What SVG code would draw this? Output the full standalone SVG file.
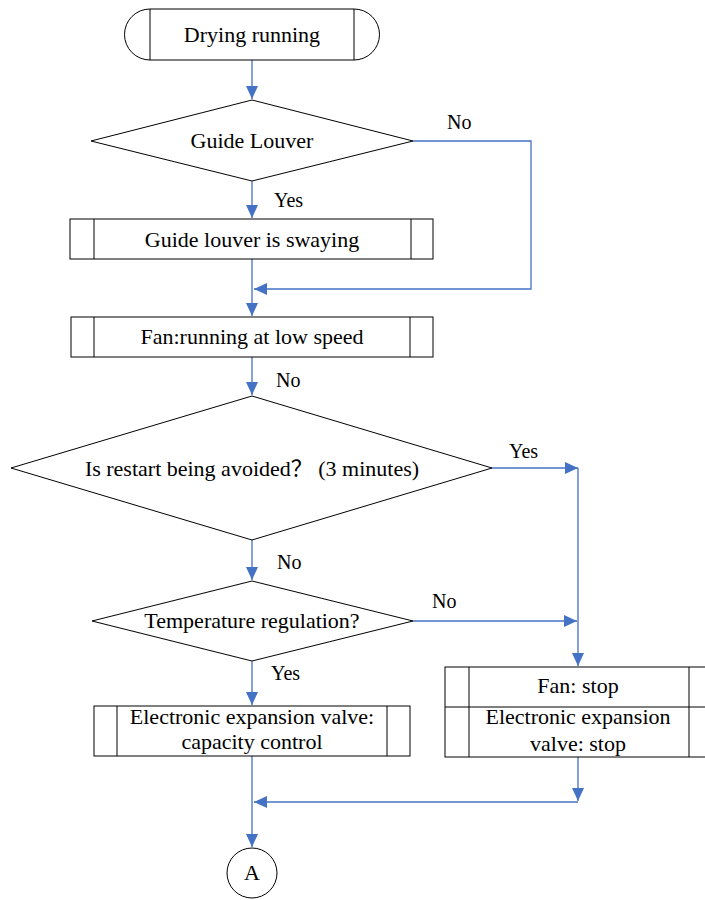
<svg xmlns="http://www.w3.org/2000/svg" width="705" height="900" viewBox="0 0 705 900">
<style>
.n{fill:#fff;stroke:#000;stroke-width:1}
.l{fill:none;stroke:#000;stroke-width:1}
.t{font-size:22px;fill:#000;text-anchor:middle}
.lb{font-size:20px;fill:#000}
.c{fill:none;stroke:#4472C4;stroke-width:1.3}
</style>
<defs>
<marker id="ah" markerUnits="userSpaceOnUse" markerWidth="14" markerHeight="12" refX="13" refY="6" orient="auto">
<path d="M0,0 L13,6 L0,12 Z" fill="#4472C4"/>
</marker>
</defs>
<rect width="705" height="900" fill="#fff"/>
<g id="connectors">
<path class="c" d="M252,60 V99" marker-end="url(#ah)"/>
<path class="c" d="M252,181 V218" marker-end="url(#ah)"/>
<path class="c" d="M413,141 H531 V289 H254" marker-end="url(#ah)"/>
<path class="c" d="M252,259 V316" marker-end="url(#ah)"/>
<path class="c" d="M252,357 V395" marker-end="url(#ah)"/>
<path class="c" d="M492,468 H578" marker-end="url(#ah)"/>
<path class="c" d="M578,468 V666" marker-end="url(#ah)"/>
<path class="c" d="M252,540 V580" marker-end="url(#ah)"/>
<path class="c" d="M413,621 H577" marker-end="url(#ah)"/>
<path class="c" d="M252,661 V705" marker-end="url(#ah)"/>
<path class="c" d="M578,757 V801" marker-end="url(#ah)"/>
<path class="c" d="M578,802 H254" marker-end="url(#ah)"/>
<path class="c" d="M252,756 V847" marker-end="url(#ah)"/>
</g>
<g font-family="Liberation Serif, Noto Sans CJK SC, serif">
<g id="start">
<path class="n" d="M150,9 H354 A25.5,25.5 0 0 1 354,60 H150 A25.5,25.5 0 0 1 150,9 Z"/>
<path class="l" d="M150,9 V60 M354,9 V60"/>
<text class="t" x="252" y="42">Drying running</text>
</g>
<g id="guide-louver">
<polygon class="n" points="252,100 413,141 252,181 91,141"/>
<text class="t" x="252" y="148">Guide Louver</text>
</g>
<g id="swaying">
<rect class="n" x="70" y="219" width="363" height="40"/>
<path class="l" d="M94,219 V259 M411,219 V259"/>
<text class="t" x="252" y="247">Guide louver is swaying</text>
</g>
<g id="fan-low">
<rect class="n" x="71" y="317" width="362" height="40"/>
<path class="l" d="M94,317 V357 M410,317 V357"/>
<text class="t" x="252" y="344">Fan:running at low speed</text>
</g>
<g id="restart">
<polygon class="n" points="252,396 492,468 252,540 11,468"/>
<text class="t" x="252" y="476">Is restart being avoided？ (3 minutes)</text>
</g>
<g id="temp">
<polygon class="n" points="252,581 413,621 252,661 92,621"/>
<text class="t" x="252" y="628">Temperature regulation?</text>
</g>
<g id="eev-capacity">
<rect class="n" x="94" y="706" width="316" height="50"/>
<path class="l" d="M117,706 V756 M387,706 V756"/>
<text class="t" x="252" y="724">Electronic expansion valve:</text>
<text class="t" x="252" y="749">capacity control</text>
</g>
<g id="stop">
<rect class="n" x="445" y="667" width="266" height="90"/>
<path class="l" d="M469,667 V757 M689,667 V757 M445,707 H711"/>
<text class="t" x="578" y="693">Fan: stop</text>
<text class="t" x="578" y="724">Electronic expansion</text>
<text class="t" x="578" y="751">valve: stop</text>
</g>
<g id="connector-a">
<circle class="n" cx="252" cy="873" r="25"/>
<text class="t" x="252" y="880">A</text>
</g>
<g id="labels">
<text class="lb" x="447" y="129">No</text>
<text class="lb" x="274" y="207">Yes</text>
<text class="lb" x="276" y="387">No</text>
<text class="lb" x="509" y="458">Yes</text>
<text class="lb" x="277" y="569">No</text>
<text class="lb" x="432" y="608">No</text>
<text class="lb" x="271" y="680">Yes</text>
</g>
</g>
</svg>
